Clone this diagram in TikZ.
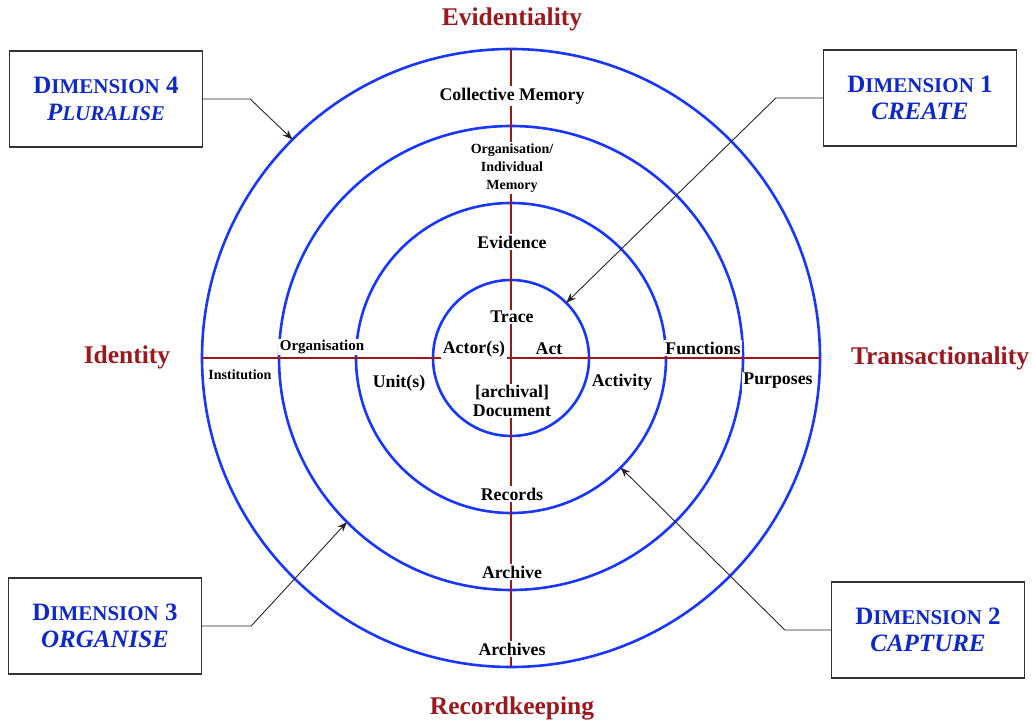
\documentclass[tikz,border=0pt]{standalone}
\usepackage{fontspec}
\setmainfont{Liberation Serif}
\usepackage{xcolor}
\usetikzlibrary{arrows.meta,calc,positioning}
\definecolor{ringblue}{RGB}{25,55,250}
\definecolor{dimblue}{RGB}{15,40,200}
\definecolor{axisred}{RGB}{155,25,30}
\newcommand{\fsc}[2]{{\fontsize{25}{26}\selectfont #1}{\fontsize{21}{26}\selectfont #2}}
\tikzset{
  ring/.style={draw=ringblue,line width=2.6pt},
  axisline/.style={draw=axisred,line width=2.8pt},
  pole/.style={text=axisred,font=\bfseries\fontsize{25.5}{28}\selectfont},
  lbl/.style={fill=white,inner sep=1.5pt,font=\bfseries\fontsize{17.8}{19}\selectfont,align=center},
  smalllbl/.style={lbl,font=\bfseries\fontsize{14}{18}\selectfont},
  dimbox/.style={draw=black!80,line width=1.3pt,minimum width=193pt,minimum height=96pt,text=dimblue,font=\bfseries\fontsize{25}{27}\selectfont,align=center},
  pointer/.style={draw=black!85,line width=0.9pt,-{Stealth[length=10pt,width=7.5pt]}}
}
\begin{document}
\begin{tikzpicture}[x=1pt,y=1pt]
\useasboundingbox (0,0) rectangle (1032,725);

\coordinate (c) at (511,367);
\foreach \r in {78,155,232,309}
  \draw[ring] (c) circle[radius=\r];

\coordinate (top) at ($(c)+(0,309)$);
\coordinate (bottom) at ($(c)+(0,-309)$);
\coordinate (left) at ($(c)+(-309,0)$);
\coordinate (right) at ($(c)+(309,0)$);
\draw[axisline] (top) -- (bottom);
\draw[axisline] (left) -- (right);

\node[pole] (evid) at (512,706) {Evidentiality};
\node[pole] (reck) at (512,17) {Recordkeeping};
\node[pole] (ident) at (127,368) {Identity};
\node[pole] (trans) at (940,367) {Transactionality};

\node[lbl] (collmem) at (512,629) {Collective Memory};
\node[smalllbl] (orgmem) at (512,557) {Organisation/\\Individual\\Memory};
\node[lbl] (evidence) at (512,483) {Evidence};
\node[lbl] (trace) at (512,408) {Trace};
\node[lbl] (actor) at (474,376) {Actor(s)};
\node[lbl] (act) at (549,376) {Act};
\node[lbl] (doc) at (512,324) {[archival]\\Document};
\node[lbl] (records) at (512,231) {Records};
\node[lbl] (archive) at (512,153) {Archive};
\node[lbl] (archives) at (512,76) {Archives};
\node[lbl,font=\bfseries\fontsize{15}{18}\selectfont] (org) at (322,378) {Organisation};
\node[smalllbl] (inst) at (240,350) {Institution};
\node[lbl] (unit) at (399,342) {Unit(s)};
\node[lbl] (activity) at (622,343) {Activity};
\node[lbl] (functions) at (703,377) {Functions};
\node[lbl] (purposes) at (778,344) {Purposes};

\node[dimbox] (dim4) at (106,626) {\fsc{D}{IMENSION} 4\\\itshape\fsc{P}{LURALISE}};
\node[dimbox] (dim1) at (920,627) {\fsc{D}{IMENSION} 1\\\itshape CREATE};
\node[dimbox] (dim3) at (105,99) {\fsc{D}{IMENSION} 3\\\itshape ORGANISE};
\node[dimbox] (dim2) at (928,95) {\fsc{D}{IMENSION} 2\\\itshape CAPTURE};

\draw[pointer] (dim4.east) -- ++(47,0) -- ($(c)+(135:309)$);
\draw[pointer] (dim1.west) -- ++(-47,0) -- ($(c)+(45:78)$);
\draw[pointer] (dim3.east) -- ++(49,0) -- ($(c)+(225:232)$);
\draw[pointer] (dim2.west) -- ++(-46,0) -- ($(c)+(-45:155)$);

\end{tikzpicture}
\end{document}
